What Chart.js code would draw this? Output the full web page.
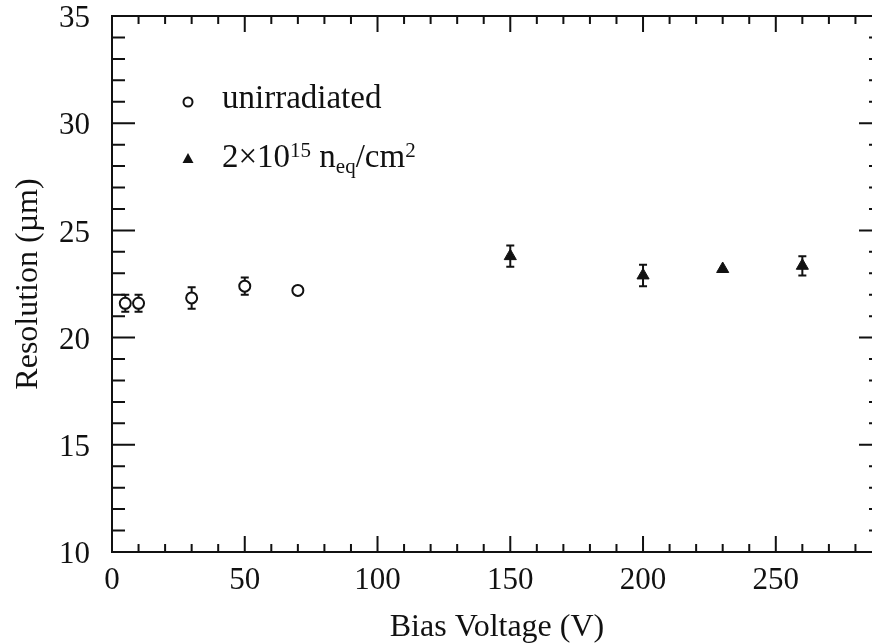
<!DOCTYPE html>
<html>
<head>
<meta charset="utf-8">
<script src="https://cdn.jsdelivr.net/npm/chart.js@4.4.0/dist/chart.umd.min.js"></script>
<style>
  html, body { margin: 0; padding: 0; background: #fff; overflow: hidden; }
  #wrap { position: relative; width: 884px; height: 643px; }
</style>
</head>
<body>
<div id="wrap"><canvas id="resChart" width="884" height="643"></canvas></div>
<script>
// Resolution vs. bias voltage, before and after irradiation
const unirrVoltage = [5, 10, 30, 50, 70];
const unirrResolution = [21.6, 21.6, 21.85, 22.4, 22.2];
const unirrError = [0.4, 0.4, 0.5, 0.4, 0];

const irrVoltage = [150, 200, 230, 260];
const irrResolution = [23.8, 22.9, 23.2, 23.35];
const irrError = [0.5, 0.5, 0, 0.45];

const X_MIN = 0, X_MAX = 290;
const Y_MIN = 10, Y_MAX = 35;

const INK = '#111';
const SERIF = "'Liberation Serif', 'Times New Roman', serif";

function points(xs, ys) {
  return xs.map((x, i) => ({ x, y: ys[i] }));
}

// error bars with small caps, drawn under the markers
function drawErrorBars(ctx, xs, ys, errs, xScale, yScale) {
  ctx.save();
  ctx.strokeStyle = INK;
  ctx.lineWidth = 2;
  xs.forEach((x, i) => {
    if (!errs[i]) return;
    const px = xScale.getPixelForValue(x);
    const hi = yScale.getPixelForValue(ys[i] + errs[i]);
    const lo = yScale.getPixelForValue(ys[i] - errs[i]);
    ctx.beginPath();
    ctx.moveTo(px, hi); ctx.lineTo(px, lo);
    ctx.moveTo(px - 4, hi); ctx.lineTo(px + 4, hi);
    ctx.moveTo(px - 4, lo); ctx.lineTo(px + 4, lo);
    ctx.stroke();
  });
  ctx.restore();
}

// frame with inward ticks on all four sides
function drawFrame(chart) {
  const { ctx, chartArea: a, scales } = chart;
  const xs = scales.x, ys = scales.y;
  ctx.save();
  ctx.strokeStyle = INK;
  ctx.lineWidth = 2;
  ctx.strokeRect(a.left, a.top, a.right - a.left, a.bottom - a.top);
  ctx.beginPath();
  for (let v = X_MIN; v <= X_MAX; v += 10) {
    const px = xs.getPixelForValue(v);
    const len = v % 50 === 0 ? 16 : 8;
    ctx.moveTo(px, a.bottom); ctx.lineTo(px, a.bottom - len);
    ctx.moveTo(px, a.top); ctx.lineTo(px, a.top + len);
  }
  for (let v = Y_MIN; v <= Y_MAX; v += 1) {
    const py = ys.getPixelForValue(v);
    const len = v % 5 === 0 ? 23 : 13;
    ctx.moveTo(a.left, py); ctx.lineTo(a.left + len, py);
    ctx.moveTo(a.right, py); ctx.lineTo(a.right - len, py);
  }
  ctx.stroke();
  ctx.restore();
}

// text runs: [text, size, baseline shift]
function drawRuns(ctx, x, y, runs) {
  runs.forEach(([txt, size, dy]) => {
    ctx.font = size + 'px ' + SERIF;
    ctx.fillText(txt, x, y + dy);
    x += ctx.measureText(txt).width;
  });
}

function drawKey(chart) {
  const { ctx } = chart;
  ctx.save();
  ctx.fillStyle = INK;
  ctx.strokeStyle = INK;
  ctx.lineWidth = 2;

  ctx.beginPath();
  ctx.arc(188, 102, 4.5, 0, Math.PI * 2);
  ctx.stroke();

  ctx.beginPath();
  ctx.moveTo(188, 153); ctx.lineTo(193.5, 163); ctx.lineTo(182.5, 163);
  ctx.closePath();
  ctx.fill();

  ctx.textBaseline = 'alphabetic';
  drawRuns(ctx, 222, 108, [['unirradiated', 33, 0]]);
  drawRuns(ctx, 222, 167, [
    ['2\u00d710', 33, 0], ['15', 21, -10], [' n', 33, 0],
    ['eq', 21, 6], ['/cm', 33, 0], ['2', 21, -10]
  ]);
  ctx.restore();
}

const decorations = {
  id: 'decorations',
  beforeDatasetsDraw(chart) {
    const { ctx, scales } = chart;
    drawErrorBars(ctx, unirrVoltage, unirrResolution, unirrError, scales.x, scales.y);
    drawErrorBars(ctx, irrVoltage, irrResolution, irrError, scales.x, scales.y);
  },
  afterDraw(chart) {
    drawFrame(chart);
    drawKey(chart);
  }
};

new Chart(document.getElementById('resChart'), {
  type: 'scatter',
  data: {
    datasets: [
      {
        label: 'unirradiated',
        data: points(unirrVoltage, unirrResolution),
        pointStyle: 'circle',
        pointRadius: 5.5,
        pointBorderWidth: 2,
        borderColor: INK,
        backgroundColor: '#fff'
      },
      {
        label: '2\u00d710\u00b9\u2075 n_eq/cm\u00b2',
        data: points(irrVoltage, irrResolution),
        pointStyle: 'triangle',
        pointRadius: 7,
        pointBorderWidth: 1,
        borderColor: INK,
        backgroundColor: INK
      }
    ]
  },
  options: {
    responsive: false,
    animation: false,
    layout: { autoPadding: false, padding: { top: 16, right: 2, left: 0, bottom: 0 } },
    plugins: { legend: { display: false }, tooltip: { enabled: false } },
    scales: {
      x: {
        type: 'linear',
        min: X_MIN,
        max: X_MAX,
        grid: { display: false },
        border: { display: false },
        afterBuildTicks: (s) => { s.ticks = s.ticks.filter((t) => t.value % 50 === 0); },
        afterFit: (s) => { s.height = 91; s.paddingLeft = 0; s.paddingRight = 0; },
        ticks: { stepSize: 50, color: INK, font: { family: SERIF, size: 31 }, padding: 2, maxRotation: 0, autoSkip: false },
        title: { display: true, text: 'Bias Voltage (V)', color: INK, font: { family: SERIF, size: 32, lineHeight: 1 }, padding: { top: 0, bottom: -1 } }
      },
      y: {
        min: Y_MIN,
        max: Y_MAX,
        grid: { display: false },
        border: { display: false },
        afterFit: (s) => { s.width = 112; s.paddingTop = 0; s.paddingBottom = 0; },
        ticks: { stepSize: 5, color: INK, font: { family: SERIF, size: 31 }, padding: 14, labelOffset: 3 },
        title: { display: true, text: 'Resolution (\u00b5m)', color: INK, font: { family: SERIF, size: 32, lineHeight: 1 }, padding: { top: 13, bottom: 0 } }
      }
    }
  },
  plugins: [decorations]
});
</script>
</body>
</html>
